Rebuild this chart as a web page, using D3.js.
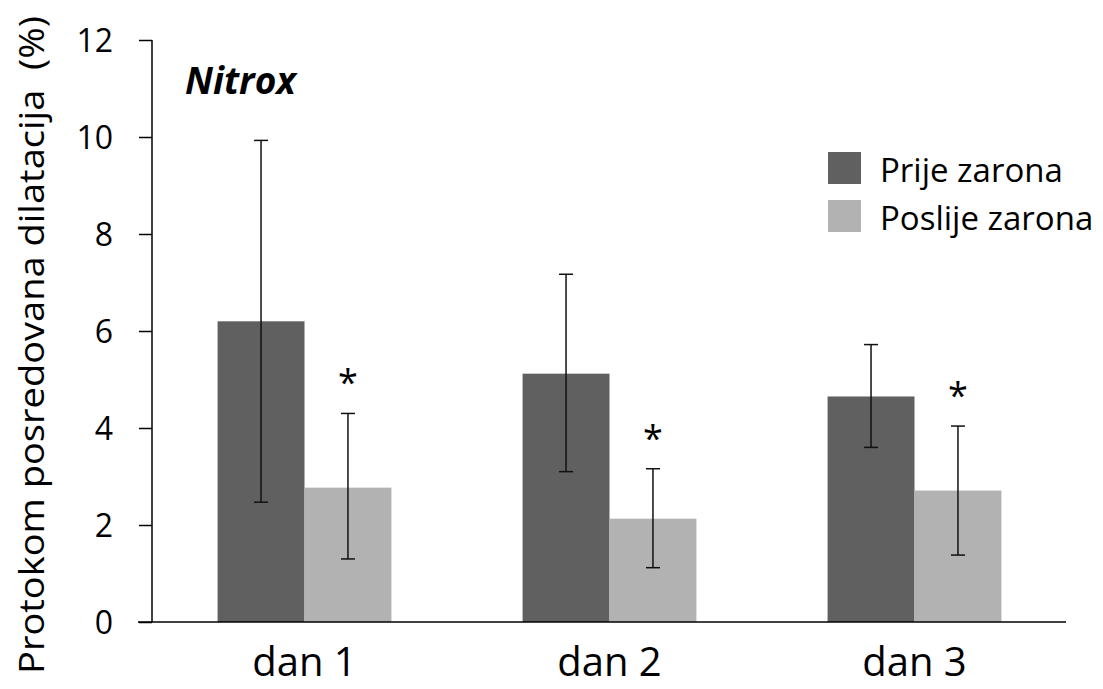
<!DOCTYPE html>
<html>
<head>
<meta charset="utf-8">
<script src="https://cdn.jsdelivr.net/npm/d3@7"></script>
<style>
  body { margin: 0; background: #fff; }
  svg text { font-family: "Open Sans", sans-serif; fill: #000; }
</style>
</head>
<body>
<div id="chart"></div>
<script>
// Data
const days = ["dan 1", "dan 2", "dan 3"];
const seriesNames = ["Prije zarona", "Poslije zarona"];
const prije = [6.2, 5.12, 4.65];
const prijeErrLow = [2.47, 3.1, 3.6];
const prijeErrHigh = [9.93, 7.17, 5.72];
const poslije = [2.77, 2.13, 2.71];
const poslijeErrLow = [1.3, 1.12, 1.38];
const poslijeErrHigh = [4.3, 3.16, 4.04];
const significant = [true, true, true];
const yTicks = [0, 2, 4, 6, 8, 10, 12];

const width = 1103, height = 689;
const colors = ["#606060", "#b2b2b2"];

const svg = d3.select("#chart").append("svg")
  .attr("width", width)
  .attr("height", height);

// Scales
const y = d3.scaleLinear().domain([0, 12]).range([622, 40]);
const x0 = d3.scaleBand().domain(days).range([152, 1067])
  .paddingInner(0.43).paddingOuter(0.215);
const x1 = d3.scaleBand().domain(seriesNames).range([0, x0.bandwidth()]);

// Build rows
const rows = days.map((d, i) => ({
  day: d,
  bars: [
    { name: seriesNames[0], v: prije[i], lo: prijeErrLow[i], hi: prijeErrHigh[i] },
    { name: seriesNames[1], v: poslije[i], lo: poslijeErrLow[i], hi: poslijeErrHigh[i] }
  ],
  sig: significant[i]
}));

// Y axis
const yAxis = svg.append("g")
  .attr("transform", "translate(152,0)")
  .call(d3.axisLeft(y).tickValues(yTicks).tickSize(13).tickPadding(26));
yAxis.select(".domain").attr("stroke", "#000").attr("stroke-width", 1.5)
  .attr("d", `M0,${y(12)}V${y(0)}`);
yAxis.selectAll(".tick line").attr("stroke", "#000").attr("stroke-width", 1.5);
yAxis.selectAll(".tick text").style("font-size", "32px").attr("dy", "0.36em");

// Groups of bars
const groups = svg.selectAll(".grp").data(rows).enter().append("g")
  .attr("transform", d => `translate(${x0(d.day)},0)`);

groups.selectAll("rect").data(d => d.bars).enter().append("rect")
  .attr("x", d => x1(d.name))
  .attr("width", x1.bandwidth())
  .attr("y", d => y(d.v))
  .attr("height", d => y(0) - y(d.v))
  .attr("fill", (d, i) => colors[i]);

// Error bars
const err = groups.selectAll(".err").data(d => d.bars).enter().append("g");
err.append("line")
  .attr("x1", d => x1(d.name) + x1.bandwidth() / 2)
  .attr("x2", d => x1(d.name) + x1.bandwidth() / 2)
  .attr("y1", d => y(d.lo)).attr("y2", d => y(d.hi))
  .attr("stroke", "#111").attr("stroke-width", 1.5);
["lo", "hi"].forEach(k => {
  err.append("line")
    .attr("x1", d => x1(d.name) + x1.bandwidth() / 2 - 7)
    .attr("x2", d => x1(d.name) + x1.bandwidth() / 2 + 7)
    .attr("y1", d => y(d[k])).attr("y2", d => y(d[k]))
    .attr("stroke", "#111").attr("stroke-width", 1.5);
});

// Significance asterisks
groups.filter(d => d.sig).append("text")
  .attr("x", d => x1(seriesNames[1]) + x1.bandwidth() / 2)
  .attr("y", d => y(d.bars[1].hi) - 18)
  .attr("text-anchor", "middle")
  .style("font-size", "36px")
  .text("*");

// X axis line
svg.append("line")
  .attr("x1", 138).attr("x2", 1066)
  .attr("y1", y(0)).attr("y2", y(0))
  .attr("stroke", "#000").attr("stroke-width", 1.5);

// X labels
svg.selectAll(".xlab").data(days).enter().append("text")
  .attr("x", d => x0(d) + x0.bandwidth() / 2)
  .attr("y", 676)
  .attr("text-anchor", "middle")
  .style("font-size", "40px")
  .text(d => d);

// Y label
svg.append("text")
  .attr("transform", "translate(44,345) rotate(-90)")
  .attr("text-anchor", "middle")
  .attr("textLength", 658)
  .attr("lengthAdjust", "spacingAndGlyphs")
  .style("font-size", "35px")
  .style("white-space", "pre")
  .text("Protokom posredovana dilatacija  (%)");

// Title
svg.append("text")
  .attr("x", 185).attr("y", 94)
  .style("font-size", "37px")
  .style("font-weight", "bold")
  .style("font-style", "italic")
  .text("Nitrox");

// Legend
const legend = svg.append("g").attr("transform", "translate(828,152)");
seriesNames.forEach((n, i) => {
  legend.append("rect")
    .attr("x", 0).attr("y", i * 48)
    .attr("width", 33).attr("height", 32)
    .attr("fill", colors[i]);
  legend.append("text")
    .attr("x", 52).attr("y", i * 48 + 30)
    .style("font-size", "33px")
    .text(n);
});
</script>
</body>
</html>
